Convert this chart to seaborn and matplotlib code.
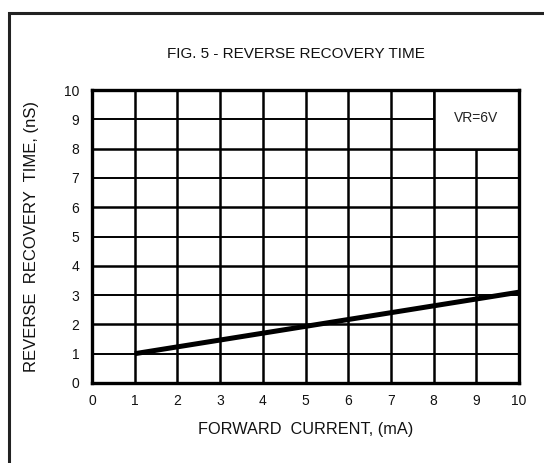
import matplotlib
matplotlib.use("Agg")
import matplotlib.pyplot as plt
import seaborn as sns
import pandas as pd
from matplotlib.patches import Rectangle

sns.set_theme(style="white")
plt.rcParams['font.family'] = ['Liberation Sans', 'DejaVu Sans']

forward_current = [1, 10]
recovery_time = [1.0, 3.1]
x_ticks = list(range(0, 11))
y_ticks = list(range(0, 11))
title = "FIG. 5 - REVERSE RECOVERY TIME"
x_label = "FORWARD  CURRENT, (mA)"
y_label = "REVERSE  RECOVERY  TIME, (nS)"
legend_text = "VR=6V"

df = pd.DataFrame({"x": forward_current, "y": recovery_time})

fig = plt.figure(figsize=(5.44, 4.63), dpi=100)
fig.patch.set_facecolor("white")
ax = fig.add_axes([92/544, 1-383/463, (519-92)/544, (383-90)/463])

# outer border
fig.patches.append(Rectangle((8.5/544, -0.1), 1.2, 1.1 - 13.5/463,
                             transform=fig.transFigure, fill=False,
                             edgecolor="#222222", linewidth=2.2, zorder=0))

ax.set_xlim(0, 10)
ax.set_ylim(0, 10)
ax.set_xticks(x_ticks)
ax.set_yticks(y_ticks)
ax.set_xticklabels([str(t) for t in x_ticks])
ax.set_yticklabels([str(t) for t in y_ticks])
ax.tick_params(axis='both', length=0, labelsize=10, colors="#111111")
ax.tick_params(axis='x', pad=8)
ax.tick_params(axis='y', pad=9)

for v in x_ticks[1:-1]:
    ax.axvline(v, color="black", linewidth=1.8, zorder=1)
for v in y_ticks[1:-1]:
    ax.axhline(v, color="black", linewidth=1.4 if v % 2 else 1.8, zorder=1)

# legend box region
ax.add_patch(Rectangle((8, 8), 2, 2, facecolor="white", edgecolor="black",
                       linewidth=1.8, zorder=2))
ax.text(9, 9.05, legend_text, ha="center", va="center", fontsize=10,
        color="#222222", zorder=3)

sns.lineplot(data=df, x="x", y="y", ax=ax, color="black", linewidth=3.6,
             zorder=4, solid_capstyle="butt")

for s in ax.spines.values():
    s.set_visible(True)
    s.set_color("black")
    s.set_linewidth(2.4)
    s.set_zorder(5)

ax.set_xlabel("")
ax.set_ylabel("")
fig.text(306/544, 1-429.5/463, x_label, ha="center", va="center",
         fontsize=11.7, color="#111111")
fig.text(32/544, 1-236.5/463, y_label, ha="center", va="center",
         rotation=90, fontsize=12, color="#111111")
fig.text(295.5/544, 1-54.5/463, title, ha="center", va="center", fontsize=11,
         color="#111111")

fig.savefig("out.png", dpi=100, facecolor="white")
